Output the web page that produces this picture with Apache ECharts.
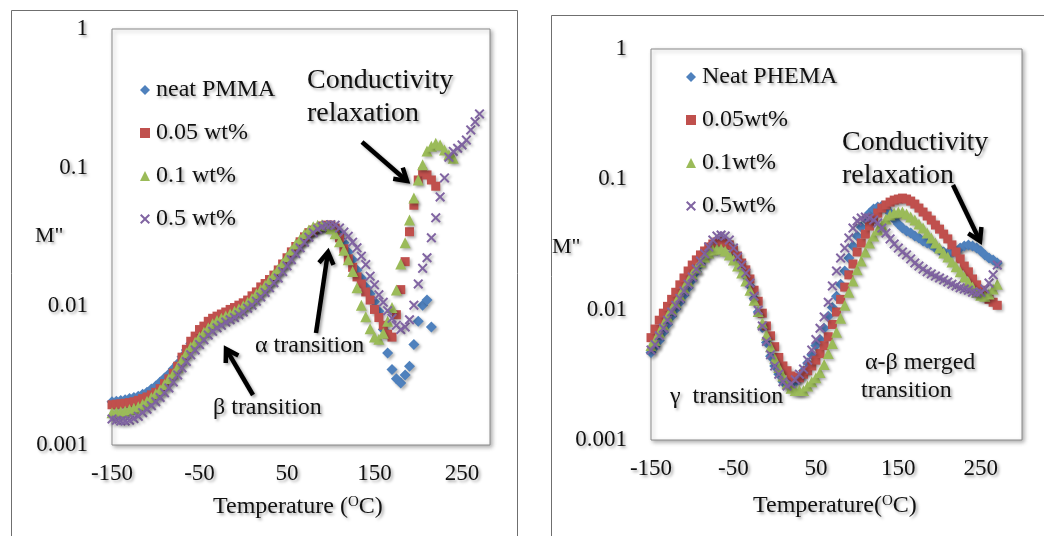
<!DOCTYPE html>
<html>
<head>
<meta charset="utf-8">
<title>M'' vs temperature</title>
<script src="https://cdn.jsdelivr.net/npm/echarts@6/dist/echarts.min.js"></script>
<style>
  html, body { margin: 0; padding: 0; background: #fff; }
  #chart { width: 1044px; height: 536px; }
</style>
</head>
<body>
<div id="chart"></div>
<script>
// temperature steps (°C), shared by both panels
const temps = [
  -150, -145, -140, -135, -130, -125, -120, -115, -110, -105,
  -100, -95, -90, -85, -80, -75, -70, -65, -60, -55,
  -50, -45, -40, -35, -30, -25, -20, -15, -10, -5,
  0, 5, 10, 15, 20, 25, 30, 35, 40, 45,
  50, 55, 60, 65, 70, 75, 80, 85, 90, 95,
  100, 105, 110, 115, 120, 125, 130, 135, 140, 145,
  150, 155, 160, 165, 170, 175, 180, 185, 190, 195,
  200, 205, 210, 215, 220, 225, 230, 235, 240, 245,
  250, 255, 260, 265, 270
]

// left panel: PMMA
const pmmaNeat = [
  0.00205, 0.00207, 0.00209, 0.00212, 0.00216, 0.0022, 0.00225, 0.00232, 0.0024, 0.00253,
  0.00266, 0.00285, 0.00304, 0.00325, 0.00354, 0.00386, 0.00433, 0.00485, 0.0054, 0.0059,
  0.0064, 0.0069, 0.0074, 0.0078, 0.0081, 0.0084, 0.0087, 0.009, 0.0093, 0.0097,
  0.0101, 0.0106, 0.0113, 0.0121, 0.0129, 0.0139, 0.015, 0.0163, 0.0178, 0.0196,
  0.0217, 0.024, 0.0259, 0.0284, 0.031, 0.0334, 0.0351, 0.0363, 0.0375, 0.0381,
  0.0381, 0.0367, 0.0334, 0.0287, 0.0247, 0.0217, 0.0183, 0.016, 0.0138, 0.0123,
  0.0108, 0.0092, 0.0068, 0.0046, 0.0035, 0.003, 0.0028, 0.0032, 0.0037, 0.0053,
  0.0078, 0.0102, 0.0111, 0.0071
]
const pmma005 = [
  0.00195, 0.00197, 0.00198, 0.002, 0.00202, 0.00205, 0.0021, 0.00216, 0.00222, 0.0023,
  0.0024, 0.00255, 0.00277, 0.003, 0.0033, 0.0037, 0.0043, 0.0049, 0.0056, 0.0061,
  0.0068, 0.0072, 0.0078, 0.0082, 0.0085, 0.0088, 0.0091, 0.0095, 0.0098, 0.0102,
  0.0106, 0.0111, 0.0119, 0.0127, 0.0138, 0.0146, 0.0156, 0.0168, 0.0183, 0.0202,
  0.0224, 0.0247, 0.027, 0.0292, 0.0317, 0.034, 0.0355, 0.0367, 0.038, 0.0385,
  0.0385, 0.0367, 0.0312, 0.026, 0.022, 0.0191, 0.0163, 0.0145, 0.0127, 0.0111,
  0.0095, 0.0083, 0.0073, 0.0063, 0.006, 0.0087, 0.0132, 0.021, 0.0345, 0.0536,
  0.0815, 0.093, 0.0886, 0.0815, 0.0735
]
const pmma01 = [
  0.00171, 0.00172, 0.00174, 0.00176, 0.0018, 0.00184, 0.00189, 0.00197, 0.00207, 0.0022,
  0.00234, 0.0025, 0.00273, 0.003, 0.00325, 0.00364, 0.0041, 0.0046, 0.0051, 0.0055,
  0.006, 0.0065, 0.007, 0.0075, 0.0079, 0.0082, 0.0085, 0.0088, 0.0092, 0.0096,
  0.0101, 0.0107, 0.0114, 0.0123, 0.0132, 0.0142, 0.0155, 0.017, 0.0186, 0.0205,
  0.0228, 0.0254, 0.0282, 0.0305, 0.0334, 0.0355, 0.0375, 0.0385, 0.0388, 0.0381,
  0.0363, 0.0334, 0.0292, 0.0254, 0.0217, 0.0178, 0.0136, 0.0102, 0.0084, 0.0069,
  0.006, 0.0058, 0.0064, 0.0078, 0.0098, 0.0131, 0.0202, 0.0287, 0.042, 0.0605,
  0.0815, 0.105, 0.132, 0.143, 0.15, 0.146, 0.134, 0.124, 0.117
]
const pmma05 = [
  0.00154, 0.00151, 0.00149, 0.00149, 0.00151, 0.00155, 0.00161, 0.00171, 0.00181, 0.00192,
  0.00205, 0.0022, 0.00238, 0.00258, 0.00285, 0.0032, 0.0036, 0.004, 0.00447, 0.00485,
  0.0053, 0.00573, 0.0062, 0.0066, 0.007, 0.0073, 0.0077, 0.008, 0.0083, 0.0087,
  0.0091, 0.0097, 0.0102, 0.0109, 0.0117, 0.0126, 0.0136, 0.0148, 0.016, 0.0178,
  0.0196, 0.0217, 0.024, 0.0264, 0.029, 0.0315, 0.034, 0.036, 0.0375, 0.0385,
  0.0388, 0.0385, 0.0367, 0.0343, 0.032, 0.029, 0.0264, 0.023, 0.02, 0.0165,
  0.0143, 0.0121, 0.0107, 0.0093, 0.0082, 0.0073, 0.0068, 0.0071, 0.008, 0.0102,
  0.0145, 0.0188, 0.0224, 0.0312, 0.0435, 0.0615, 0.0844, 0.119, 0.131, 0.138,
  0.146, 0.158, 0.187, 0.214, 0.244
]

// right panel: PHEMA
const phemaNeat = [
  0.0047, 0.0052, 0.0058, 0.0067, 0.0077, 0.0089, 0.0101, 0.0114, 0.0129, 0.0147,
  0.0169, 0.0195, 0.0224, 0.0254, 0.0282, 0.0314, 0.0336, 0.0342, 0.0336, 0.0314,
  0.0277, 0.0241, 0.0209, 0.0181, 0.0152, 0.0122, 0.0096, 0.0073, 0.0056, 0.0044,
  0.0037, 0.0032, 0.0028, 0.0027, 0.0027, 0.0028, 0.003, 0.0034, 0.0039, 0.0045,
  0.0053, 0.0059, 0.0072, 0.0089, 0.0104, 0.0127, 0.0157, 0.0198, 0.0249, 0.0308,
  0.0367, 0.043, 0.0496, 0.0551, 0.0592, 0.0613, 0.0624, 0.0602, 0.0551, 0.0496,
  0.0454, 0.0423, 0.0401, 0.0387, 0.0367, 0.0355, 0.0336, 0.0325, 0.0314, 0.0297,
  0.0287, 0.0277, 0.0272, 0.0272, 0.0282, 0.0297, 0.0308, 0.0314, 0.0308, 0.0297,
  0.0282, 0.0263, 0.0249, 0.0241, 0.0228
]
const phema005 = [
  0.0061, 0.0071, 0.0083, 0.0094, 0.0106, 0.012, 0.0136, 0.0155, 0.0175, 0.0198,
  0.022, 0.0241, 0.0263, 0.0282, 0.0303, 0.0319, 0.0331, 0.0331, 0.0325, 0.0314,
  0.0287, 0.0258, 0.0228, 0.0202, 0.0172, 0.0141, 0.0116, 0.0094, 0.0075, 0.0063,
  0.0052, 0.0043, 0.0037, 0.0034, 0.0031, 0.003, 0.003, 0.0032, 0.0034, 0.0037,
  0.0041, 0.0046, 0.0053, 0.0062, 0.0077, 0.0096, 0.012, 0.0149, 0.0185, 0.0224,
  0.0277, 0.0325, 0.038, 0.0438, 0.0496, 0.0551, 0.0602, 0.0636, 0.0669, 0.0693,
  0.0706, 0.0718, 0.0706, 0.0681, 0.0646, 0.0602, 0.0561, 0.0523, 0.0487, 0.0446,
  0.0415, 0.038, 0.0349, 0.0314, 0.0277, 0.0245, 0.0216, 0.0195, 0.0172, 0.0155,
  0.0141, 0.0129, 0.012, 0.0114, 0.0108
]
const phema01 = [
  0.0053, 0.0058, 0.0067, 0.0077, 0.0089, 0.0101, 0.0114, 0.0129, 0.0147, 0.0166,
  0.0188, 0.0209, 0.0232, 0.0254, 0.0272, 0.0287, 0.0292, 0.0292, 0.0282, 0.0263,
  0.0241, 0.0216, 0.0191, 0.0166, 0.0141, 0.0118, 0.0097, 0.0079, 0.0064, 0.0052,
  0.0042, 0.0036, 0.0031, 0.0027, 0.0025, 0.0024, 0.0024, 0.0024, 0.0026, 0.0028,
  0.003, 0.0033, 0.0038, 0.0046, 0.0055, 0.0067, 0.0086, 0.0108, 0.0136, 0.0166,
  0.0202, 0.0236, 0.0277, 0.0325, 0.0367, 0.0408, 0.0446, 0.0496, 0.0532, 0.0551,
  0.0561, 0.0561, 0.0542, 0.0514, 0.0487, 0.0454, 0.0423, 0.0387, 0.0355, 0.0325,
  0.0297, 0.0272, 0.0254, 0.0232, 0.0213, 0.0195, 0.0178, 0.0163, 0.0149, 0.0136,
  0.0129, 0.0127, 0.0132, 0.0144, 0.0157
]
const phema05 = [
  0.0049, 0.0054, 0.0063, 0.0072, 0.0083, 0.0096, 0.0108, 0.0122, 0.0139, 0.0157,
  0.0178, 0.0205, 0.0236, 0.0268, 0.0303, 0.0342, 0.0367, 0.0374, 0.0367, 0.0342,
  0.0297, 0.0254, 0.022, 0.0191, 0.016, 0.0127, 0.0099, 0.0075, 0.0057, 0.0045,
  0.0037, 0.0032, 0.0028, 0.0026, 0.0027, 0.0029, 0.0032, 0.0035, 0.0041, 0.0049,
  0.0059, 0.0072, 0.0088, 0.0114, 0.0152, 0.0198, 0.0249, 0.0297, 0.0355, 0.0423,
  0.0479, 0.0505, 0.0514, 0.0505, 0.0487, 0.0462, 0.0423, 0.0387, 0.0349, 0.0319,
  0.0297, 0.0277, 0.0263, 0.0245, 0.0228, 0.0216, 0.0205, 0.0195, 0.0188, 0.0181,
  0.0175, 0.0169, 0.0163, 0.0157, 0.0152, 0.0147, 0.0144, 0.0141, 0.0136, 0.0134,
  0.0136, 0.0144, 0.016, 0.0185, 0.022
]

const leftNames = ['neat PMMA', '0.05 wt%', '0.1 wt%', '0.5 wt%']
const rightNames = ['Neat PHEMA', '0.05wt%', '0.1wt%', '0.5wt%']
const xTickLabels = ['-150', '-50', '50', '150', '250']

const colors = ['#4F81BD', '#C0504D', '#9BBB59', '#8064A2']
const symbols = [
  'diamond', 'rect', 'triangle',
  'path://M0,1.4L1.4,0L5,3.6L8.6,0L10,1.4L6.4,5L10,8.6L8.6,10L5,6.4L1.4,10L0,8.6L3.6,5Z'
]
const sizes = [11, 9, 11, 10]

const serif = "'Liberation Serif', 'DejaVu Serif', serif"
const ink = '#111'
const txtShadow = {
  textShadowColor: 'rgba(0,0,0,0.35)',
  textShadowBlur: 3,
  textShadowOffsetX: 2,
  textShadowOffsetY: 2
}

function makeSeries(name, k, vals, idx) {
  return {
    name: name,
    type: 'scatter',
    xAxisIndex: idx,
    yAxisIndex: idx,
    symbol: symbols[k],
    symbolSize: sizes[k],
    itemStyle: {
      color: colors[k],
      opacity: 1,
      shadowColor: 'rgba(0,0,0,0.3)',
      shadowBlur: 3,
      shadowOffsetX: 2,
      shadowOffsetY: 2
    },
    data: vals.map((v, i) => [temps[i], v])
  }
}

function xAxisFor(idx, max) {
  return {
    gridIndex: idx,
    type: 'value',
    min: -150,
    max: max,
    interval: 50,
    axisLine: { show: false },
    axisTick: { show: false },
    splitLine: { show: false },
    axisLabel: {
      margin: 17,
      fontSize: 23,
      fontFamily: serif,
      color: ink,
      ...txtShadow,
      formatter: v => (xTickLabels.indexOf(String(v)) >= 0 ? String(v) : '')
    }
  }
}

function yAxisFor(idx) {
  return {
    gridIndex: idx,
    type: 'log',
    logBase: 10,
    min: 0.001,
    max: 1,
    axisLine: { show: false },
    axisTick: { show: false },
    splitLine: { show: false },
    axisLabel: {
      margin: 24,
      fontSize: 23,
      fontFamily: serif,
      color: ink,
      ...txtShadow,
      formatter: v => String(parseFloat(Number(v).toPrecision(2)))
    }
  }
}

function legendFor(names, left, top) {
  return {
    data: names,
    orient: 'vertical',
    left: left,
    top: top,
    itemWidth: 10,
    itemHeight: 10,
    itemGap: 19,
    selectedMode: false,
    textStyle: {
      fontSize: 24,
      lineHeight: 24,
      fontFamily: serif,
      color: ink,
      padding: [0, 0, 0, 1],
      ...txtShadow
    }
  }
}

function label(x, y, text, size, extra) {
  return {
    type: 'text',
    x: x,
    y: y,
    z: 100,
    style: Object.assign({
      text: text,
      fontSize: size,
      fontFamily: serif,
      fill: ink,
      align: 'left',
      verticalAlign: 'middle',
      textShadowColor: 'rgba(0,0,0,0.35)',
      textShadowBlur: 3,
      textShadowOffsetX: 2,
      textShadowOffsetY: 2
    }, extra || {})
  }
}

// thick arrow with an open head at (x2, y2)
function arrow(x1, y1, x2, y2) {
  const a = Math.atan2(y2 - y1, x2 - x1)
  const L = 14, w = 0.55
  const st = {
    stroke: '#000', lineWidth: 4.5, fill: null,
    shadowColor: 'rgba(0,0,0,0.35)', shadowBlur: 3, shadowOffsetX: 2, shadowOffsetY: 2
  }
  return [
    { type: 'polyline', z: 100, shape: { points: [[x1, y1], [x2 - 2 * Math.cos(a), y2 - 2 * Math.sin(a)]] }, style: st },
    {
      type: 'polyline', z: 100,
      shape: { points: [
        [x2 - L * Math.cos(a - w), y2 - L * Math.sin(a - w)],
        [x2, y2],
        [x2 - L * Math.cos(a + w), y2 - L * Math.sin(a + w)]
      ] },
      style: st
    }
  ]
}

const gridStyle = {
  show: true,
  borderColor: '#8a8a8a',
  borderWidth: 1,
  backgroundColor: '#fff',
  shadowColor: 'rgba(0,0,0,0.3)',
  shadowBlur: 4,
  shadowOffsetX: 2,
  shadowOffsetY: 2
}

const supRich = {
  sup: { fontSize: 15, fontFamily: serif, verticalAlign: 'top', lineHeight: 14, fill: ink }
}

const chart = echarts.init(document.getElementById('chart'))

chart.setOption({
  animation: false,
  backgroundColor: '#fff',
  grid: [
    Object.assign({ left: 112, top: 29, width: 378, height: 416 }, gridStyle),
    Object.assign({ left: 651, top: 49, width: 371, height: 391 }, gridStyle)
  ],
  xAxis: [xAxisFor(0, 282), xAxisFor(1, 300)],
  yAxis: [yAxisFor(0), yAxisFor(1)],
  legend: [legendFor(leftNames, 135, 73), legendFor(rightNames, 681, 60)],
  series: [
    makeSeries(leftNames[0], 0, pmmaNeat, 0),
    makeSeries(leftNames[1], 1, pmma005, 0),
    makeSeries(leftNames[2], 2, pmma01, 0),
    makeSeries(leftNames[3], 3, pmma05, 0),
    makeSeries(rightNames[0], 0, phemaNeat, 1),
    makeSeries(rightNames[1], 1, phema005, 1),
    makeSeries(rightNames[2], 2, phema01, 1),
    makeSeries(rightNames[3], 3, phema05, 1)
  ],
  graphic: [
    // panel frames
    { type: 'rect', z: -10, shape: { x: 11.5, y: 10.5, width: 506, height: 560 }, style: { fill: null, stroke: '#6f6f6f', lineWidth: 1 } },
    { type: 'rect', z: -10, shape: { x: 551.5, y: 15.5, width: 600, height: 560 }, style: { fill: null, stroke: '#6f6f6f', lineWidth: 1 } },

    // left panel texts
    label(35, 236, 'M"', 22),
    label(307, 81, 'Conductivity', 28),
    label(307, 114, 'relaxation', 28),
    label(255, 346, 'α transition', 24),
    label(213, 408, 'β transition', 24),
    label(213, 507, 'Temperature ({sup|O}C)', 24, { rich: supRich }),
    ...arrow(362, 142, 407, 181),
    ...arrow(316, 333, 328, 252),
    ...arrow(253, 395, 226, 349),

    // right panel texts
    label(552, 247, 'M"', 22),
    label(842, 143, 'Conductivity', 28),
    label(842, 176, 'relaxation', 28),
    label(865, 363, 'α-β merged', 24),
    label(861, 391, 'transition', 24),
    label(670, 397, 'γ  transition', 24),
    label(753, 506, 'Temperature({sup|O}C)', 24, { rich: supRich }),
    ...arrow(953, 185, 980, 241)
  ]
})
</script>
</body>
</html>
